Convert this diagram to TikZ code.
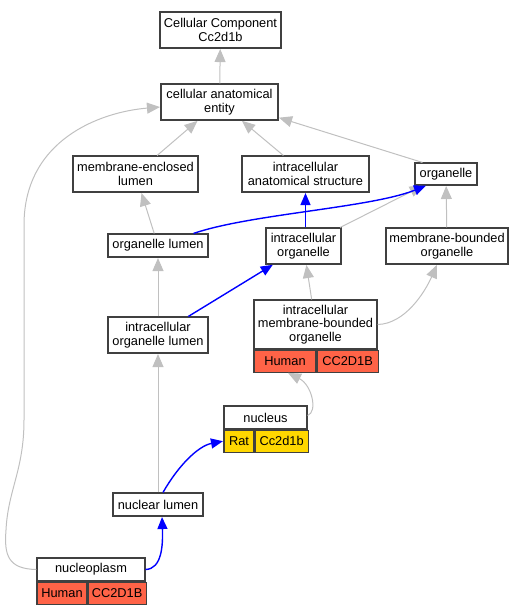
\documentclass[tikz,border=0pt]{standalone}
\usepackage{fontspec}
\setmainfont{Liberation Sans}
\usepackage{tikz}
\usetikzlibrary{arrows.meta, calc}
\usepackage{xcolor}
\definecolor{edge-gray}{HTML}{C0C0C0}
\definecolor{part-blue}{HTML}{0000FF}
\definecolor{box-gray}{HTML}{404040}
\definecolor{human-red}{HTML}{FF6347}
\definecolor{rat-gold}{HTML}{FFD700}

\tikzset{
	term/.style={draw=box-gray, fill=white, line width=1.1pt, align=center, inner sep=0pt,
		font=\fontsize{12.8}{13.4}\selectfont},
	cell/.style={term, anchor=north west, minimum height=22pt},
	isa/.style={draw=edge-gray, line width=1pt, -{Triangle[length=13pt, width=11pt]}, shorten >=0.5pt},
	partof/.style={draw=part-blue, line width=1.4pt, -{Triangle[length=12pt, width=10pt]}, shorten >=0.5pt}
}

\begin{document}
\begin{tikzpicture}[x=1pt, y=-1pt]
					\useasboundingbox (0,0) rectangle (530,613);
					
					\node[term, minimum width=121pt, minimum height=36pt] at (220.5, 30) (cc) {Cellular Component\\Cc2d1b};
					\node[term, minimum width=117pt, minimum height=36pt] at (219.5, 102) (cae) {cellular anatomical\\entity};
					\node[term, minimum width=125pt, minimum height=36pt] at (135.5, 174) (mel) {membrane-enclosed\\lumen};
					\node[term, minimum width=127pt, minimum height=36pt] at (305.5, 174) (ias) {intracellular\\anatomical structure};
					\node[term, minimum width=62pt, minimum height=22pt] at (446, 174) (org) {organelle};
					\node[term, minimum width=100pt, minimum height=23pt] at (158, 245.5) (orglum) {organelle lumen};
					\node[term, minimum width=75pt, minimum height=36pt] at (303.5, 246) (icorg) {intracellular\\organelle};
					\node[term, minimum width=122pt, minimum height=36pt] at (447, 246) (mbo) {membrane-bounded\\organelle};
					\node[term, minimum width=100pt, minimum height=36pt] at (158, 335) (icol) {intracellular\\organelle lumen};
					
					\node[term, minimum width=123pt, minimum height=49pt] at (315.5, 324.5) (imbo) {intracellular\\membrane-bounded\\organelle};
					\node[cell, fill=human-red, minimum width=62pt] at (imbo.south west) (imboH) {Human};
					\node[cell, fill=human-red, minimum width=61pt] at (imboH.north east) (imboG) {CC2D1B};
					
					\node[term, minimum width=83pt, minimum height=23pt] at (265.5, 417.5) (nucl) {nucleus};
					\node[cell, fill=rat-gold, minimum width=30pt] at (nucl.south west) (nuclR) {Rat};
					\node[cell, fill=rat-gold, minimum width=53pt] at (nuclR.north east) (nuclG) {Cc2d1b};
					
					\node[term, minimum width=90pt, minimum height=23pt] at (158, 504.5) (nuclum) {nuclear lumen};
					
					\node[term, minimum width=108pt, minimum height=23pt] at (91, 569.5) (nplasm) {nucleoplasm};
					\node[cell, fill=human-red, minimum width=50pt] at (nplasm.south west) (nplasmH) {Human};
					\node[cell, fill=human-red, minimum width=58pt] at (nplasmH.north east) (nplasmG) {CC2D1B};
					
					\draw[isa] (cae) -- (cc);
					\draw[isa] (mel) -- (cae);
					\draw[isa] (ias) -- (cae);
					\draw[isa] ($(org.north west)+(8,0)$) -- ($(cae.south east)+(0,-3)$);
					\draw[isa] (nplasm.west) .. controls (8,569) and (4,555) .. (6,530) .. controls (8,490) and (24,470) .. (24,420) -- (24,225) .. controls (24,140) and (100,112) .. ($(cae.west)+(0,5)$);
					\draw[isa] (orglum) -- (mel);
					\draw[isa] (icorg) -- (org);
					\draw[isa] (mbo) -- (org);
					\draw[isa] (icol) -- (orglum);
					\draw[isa] (imbo) -- (icorg);
					\draw[isa] (imbo.east) .. controls (405,324) and (425,292) .. ($(mbo.south)+(-10,0)$);
					\draw[isa] ($(nucl.east)+(0,-2)$) .. controls (318,412) and (312,385) .. ($(imboH.south east)+(-29,0)$);
					\draw[isa] (nuclum) -- (icol);
					
					\draw[partof] ($(orglum.north east)+(-15,0)$) .. controls (250,214) and (370,208) .. ($(org.south west)+(12,0)$);
					\draw[partof] (icorg.north -| ias.south) -- (ias.south);
					\draw[partof] (icol) -- (icorg);
					\draw[partof] ($(nuclum.north)+(5,0)$) .. controls (178,466) and (198,446) .. (nuclR.west);
					\draw[partof] (nplasm.east) .. controls (162,569) and (163,545) .. ($(nuclum.south)+(4,0)$);
				\end{tikzpicture}
\end{document}
